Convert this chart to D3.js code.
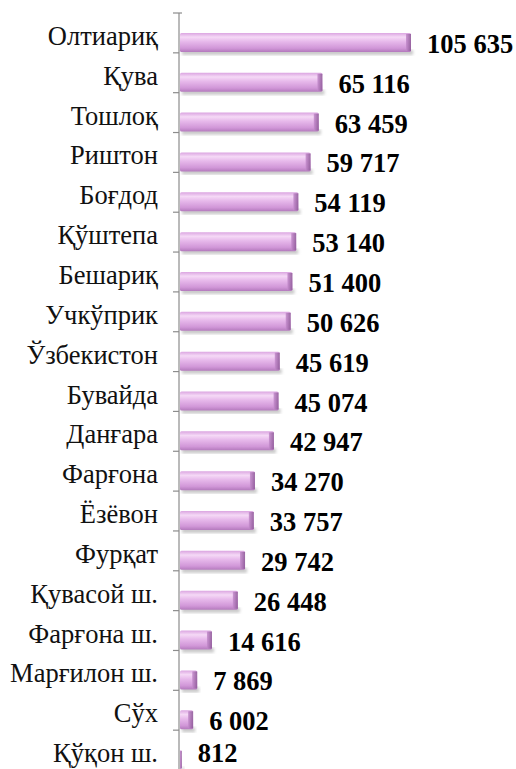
<!DOCTYPE html>
<html>
<head>
<meta charset="utf-8">
<script src="https://cdn.jsdelivr.net/npm/d3@7"></script>
<style>
  body { margin: 0; background: #fff; }
  svg { display: block; }
  .label { font-family: "Liberation Serif", "Times New Roman", "DejaVu Serif", serif; font-size: 26.5px; fill: #111; }
  .value { font-family: "Liberation Serif", "Times New Roman", "DejaVu Serif", serif; font-size: 26.5px; font-weight: bold; fill: #000; }
</style>
</head>
<body>
<script>
"use strict";

var categories = ["Олтиариқ", "Қува", "Тошлоқ", "Риштон", "Боғдод", "Қўштепа", "Бешариқ",
    "Учкўприк", "Ўзбекистон", "Бувайда", "Данғара", "Фарғона", "Ёзёвон", "Фурқат",
    "Қувасой ш.", "Фарғона ш.", "Марғилон ш.", "Сўх", "Қўқон ш."];
var values = [105635, 65116, 63459, 59717, 54119, 53140, 51400, 50626, 45619, 45074,
    42947, 34270, 33757, 29742, 26448, 14616, 7869, 6002, 812];

var width = 516, height = 769;
var axis_x = 179;

var svg = d3.select('body').append('svg').attr('width', width).attr('height', height);

var defs = svg.append('defs');

var grad = defs.append('linearGradient').attr('id', 'barfill')
    .attr('x1', 0).attr('y1', 0).attr('x2', 0).attr('y2', 1);
grad.append('stop').attr('offset', '0%').attr('stop-color', '#dba5e1');
grad.append('stop').attr('offset', '22%').attr('stop-color', '#f5d9f6');
grad.append('stop').attr('offset', '45%').attr('stop-color', '#e7b9eb');
grad.append('stop').attr('offset', '80%').attr('stop-color', '#d197d8');
grad.append('stop').attr('offset', '100%').attr('stop-color', '#b47abd');

var cap = defs.append('linearGradient').attr('id', 'capfill')
    .attr('x1', 0).attr('y1', 0).attr('x2', 1).attr('y2', 0);
cap.append('stop').attr('offset', '0%').attr('stop-color', '#c58ccd');
cap.append('stop').attr('offset', '100%').attr('stop-color', '#8a5594');

defs.append('filter').attr('id', 'blur')
    .append('feGaussianBlur').attr('stdDeviation', 1.6);

var x = d3.scaleLinear().domain([0, 105635]).range([axis_x + 1, 411]);
var y = d3.scaleBand().domain(categories).range([13, 770]).paddingInner(0).paddingOuter(0);

var bw = y.bandwidth();
var bar_h = 19;

var bars = svg.append('g').selectAll('.bar')
    .data(categories)
    .enter().append('g')
        .classed('bar', true)
        .attr('transform', function( d ) { return 'translate(0,' + (y(d) + bw * 0.5) + ')'; });

// shadow under each bar
bars.append('rect')
    .attr('x', x(0) + 2)
    .attr('y', bar_h - 2)
    .attr('width', function( d, i ) { return Math.max(x(values[i]) - x(0), 2); })
    .attr('height', 5)
    .attr('fill', '#c8c8c8')
    .attr('filter', 'url(#blur)');

bars.append('rect')
    .attr('x', x(0))
    .attr('y', 0)
    .attr('width', function( d, i ) { return Math.max(x(values[i]) - x(0), 1); })
    .attr('height', bar_h)
    .attr('rx', 1.5)
    .attr('fill', 'url(#barfill)');

bars.append('rect')
    .attr('x', function( d, i ) { return Math.max(x(values[i]) - 5, x(0)); })
    .attr('y', 1)
    .attr('width', function( d, i ) { return Math.min(5, Math.max(x(values[i]) - x(0), 1)); })
    .attr('height', bar_h - 2)
    .attr('fill', 'url(#capfill)')
    .attr('opacity', 0.85);

// keep the last value inside the picture
bars.append('text')
    .classed('value', true)
    .attr('x', function( d, i ) { return x(values[i]) + 16; })
    .attr('y', function( d ) { return Math.min(bar_h + 1, 762 - y(d) - bw * 0.5); })
    .text(function( d, i ) { return d3.format(',')(values[i]).replace(/,/g, ' '); });

svg.append('line')
    .attr('x1', axis_x).attr('x2', axis_x)
    .attr('y1', 13).attr('y2', 769)
    .attr('stroke', '#8c8c8c').attr('stroke-width', 1.2);

var tick_pos = categories.map(function( d ) { return y(d); }).concat([y.range()[1]]);
svg.append('g').selectAll('line')
    .data(tick_pos)
    .enter().append('line')
        .attr('x1', axis_x - 6).attr('x2', axis_x)
        .attr('y1', function( d ) { return d; })
        .attr('y2', function( d ) { return d; })
        .attr('stroke', '#8c8c8c').attr('stroke-width', 1.2);

svg.append('line')
    .attr('x1', axis_x).attr('x2', axis_x + 3)
    .attr('y1', 13).attr('y2', 13)
    .attr('stroke', '#8c8c8c').attr('stroke-width', 1.2);

svg.append('g').selectAll('.label')
    .data(categories)
    .enter().append('text')
        .classed('label', true)
        .attr('x', 158)
        .attr('y', function( d ) { return y(d) + bw / 2 + 12; })
        .attr('text-anchor', 'end')
        .text(function( d ) { return d; });
</script>
</body>
</html>
